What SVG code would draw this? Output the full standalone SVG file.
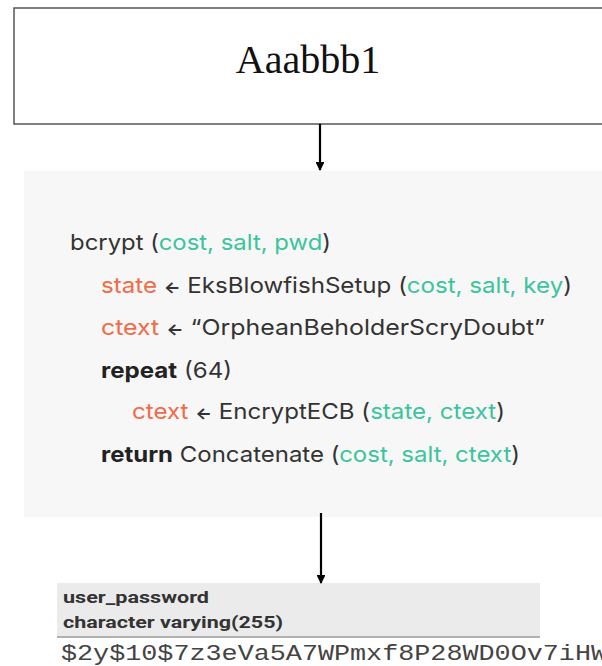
<svg xmlns="http://www.w3.org/2000/svg" width="602" height="666" viewBox="0 0 602 666">
  <defs>
    <marker id="arrowhead" viewBox="0 0 10 10" refX="9" refY="5" markerWidth="4" markerHeight="4" orient="auto" markerUnits="strokeWidth">
      <path d="M0,0 L10,5 L0,10 z" fill="#000"/>
    </marker>
    <style>
      .box { fill: #ffffff; stroke: #555555; stroke-width: 1.5; }
      .panel { fill: #f7f7f7; }
      .conn { stroke: #000; stroke-width: 2.2; fill: none; marker-end: url(#arrowhead); }
      .title { font-family: "Liberation Serif", serif; font-size: 40px; fill: #111; }
      .code { font-family: Inter, "Noto Sans", sans-serif; font-size: 22px; fill: #333; }
      .t { fill: #3cc49e; }
      .o { fill: #f26b47; }
      .b { font-weight: 700; fill: #222; }
      .arr { font-size: 16px; font-weight: 700; }
      .hdr { fill: #ebebeb; }
      .hdrline { stroke: #b0b0b0; stroke-width: 2; }
      .col { font-family: Roboto, "Liberation Sans", sans-serif; font-size: 17px; font-weight: 700; fill: #333; }
      .hash { font-family: "Liberation Mono", monospace; font-size: 22px; fill: #444; }
    </style>
  </defs>

  <!-- input password box -->
  <g id="input">
    <rect class="box" x="14" y="8" width="620" height="116"/>
    <text class="title" x="308" y="73" text-anchor="middle">Aaabbb1</text>
  </g>

  <!-- bcrypt pseudocode panel -->
  <g id="bcrypt">
    <rect class="panel" x="24" y="171" width="600" height="346"/>
    <text class="code" x="70" y="250" textLength="261" lengthAdjust="spacingAndGlyphs">bcrypt (<tspan class="t">cost, salt, pwd</tspan>)</text>
    <text class="code" x="101" y="293" textLength="471" lengthAdjust="spacingAndGlyphs"><tspan class="o">state</tspan> <tspan class="arr">←</tspan> EksBlowfishSetup (<tspan class="t">cost, salt, key</tspan>)</text>
    <text class="code" x="101" y="335" textLength="444" lengthAdjust="spacingAndGlyphs"><tspan class="o">ctext</tspan> <tspan class="arr">←</tspan> “OrpheanBeholderScryDoubt”</text>
    <text class="code" x="101" y="378" textLength="131" lengthAdjust="spacingAndGlyphs"><tspan class="b">repeat</tspan> (64)</text>
    <text class="code" x="132" y="419" textLength="373" lengthAdjust="spacingAndGlyphs"><tspan class="o">ctext</tspan> <tspan class="arr">←</tspan> EncryptECB (<tspan class="t">state, ctext</tspan>)</text>
    <text class="code" x="101" y="462" textLength="419" lengthAdjust="spacingAndGlyphs"><tspan class="b">return</tspan> Concatenate (<tspan class="t">cost, salt, ctext</tspan>)</text>
  </g>

  <!-- stored column value -->
  <g id="stored">
    <rect class="hdr" x="57" y="583" width="483" height="53"/>
    <line class="hdrline" x1="57" y1="637" x2="540" y2="637"/>
    <text class="col" x="63" y="603" textLength="146" lengthAdjust="spacingAndGlyphs">user_password</text>
    <text class="col" x="63" y="628" textLength="220" lengthAdjust="spacingAndGlyphs">character varying(255)</text>
    <text class="hash" x="61" y="660" textLength="546" lengthAdjust="spacingAndGlyphs">$2y$10$7z3eVa5A7WPmxf8P28WD0Ov7iHW</text>
  </g>

  <!-- connectors -->
  <g id="connectors">
    <line class="conn" x1="320" y1="124" x2="320" y2="170"/>
    <line class="conn" x1="321" y1="513" x2="321" y2="583"/>
  </g>
</svg>
